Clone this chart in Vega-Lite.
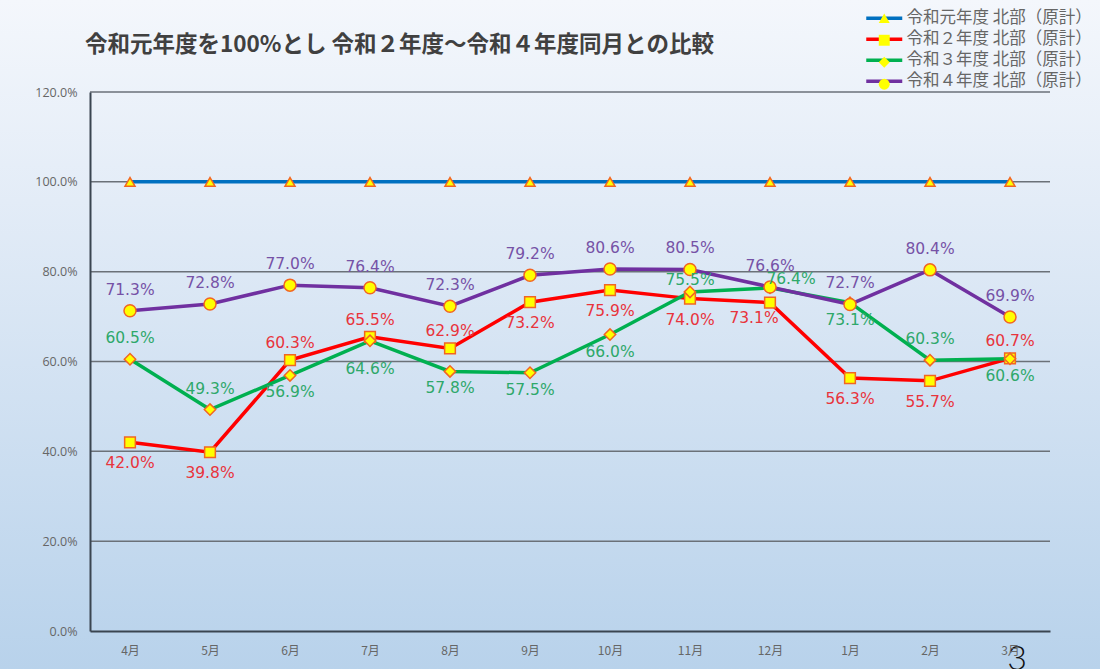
{
  "$schema": "https://vega.github.io/schema/vega-lite/v6.json",
  "width": 960,
  "height": 539,
  "autosize": {"type": "none"},
  "padding": {"left": 90, "top": 92, "right": 50, "bottom": 38},
  "background": "#dce8f4",
  "title": {
    "text": "令和元年度を100%とし 令和２年度～令和４年度同月との比較",
    "anchor": "start",
    "frame": "group",
    "fontSize": 22.5,
    "fontWeight": "bold",
    "color": "#404040",
    "font": "Noto Sans CJK JP",
    "offset": -57,
    "dx": -5
  },
  "config": {
    "font": "Noto Sans CJK JP",
    "view": {"stroke": null},
    "axis": {"zindex": 1}
  },
  "datasets": {
    "d": [
      {"fm": 1, "month": "4月", "series": "令和元年度 北部（原計）", "v": 100},
      {"fm": 2, "month": "5月", "series": "令和元年度 北部（原計）", "v": 100},
      {"fm": 3, "month": "6月", "series": "令和元年度 北部（原計）", "v": 100},
      {"fm": 4, "month": "7月", "series": "令和元年度 北部（原計）", "v": 100},
      {"fm": 5, "month": "8月", "series": "令和元年度 北部（原計）", "v": 100},
      {"fm": 6, "month": "9月", "series": "令和元年度 北部（原計）", "v": 100},
      {"fm": 7, "month": "10月", "series": "令和元年度 北部（原計）", "v": 100},
      {"fm": 8, "month": "11月", "series": "令和元年度 北部（原計）", "v": 100},
      {"fm": 9, "month": "12月", "series": "令和元年度 北部（原計）", "v": 100},
      {"fm": 10, "month": "1月", "series": "令和元年度 北部（原計）", "v": 100},
      {"fm": 11, "month": "2月", "series": "令和元年度 北部（原計）", "v": 100},
      {"fm": 12, "month": "3月", "series": "令和元年度 北部（原計）", "v": 100},
      {"fm": 1, "month": "4月", "series": "令和２年度 北部（原計）", "v": 42.0},
      {"fm": 2, "month": "5月", "series": "令和２年度 北部（原計）", "v": 39.8},
      {"fm": 3, "month": "6月", "series": "令和２年度 北部（原計）", "v": 60.3},
      {"fm": 4, "month": "7月", "series": "令和２年度 北部（原計）", "v": 65.5},
      {"fm": 5, "month": "8月", "series": "令和２年度 北部（原計）", "v": 62.9},
      {"fm": 6, "month": "9月", "series": "令和２年度 北部（原計）", "v": 73.2},
      {"fm": 7, "month": "10月", "series": "令和２年度 北部（原計）", "v": 75.9},
      {"fm": 8, "month": "11月", "series": "令和２年度 北部（原計）", "v": 74.0},
      {"fm": 9, "month": "12月", "series": "令和２年度 北部（原計）", "v": 73.1},
      {"fm": 10, "month": "1月", "series": "令和２年度 北部（原計）", "v": 56.3},
      {"fm": 11, "month": "2月", "series": "令和２年度 北部（原計）", "v": 55.7},
      {"fm": 12, "month": "3月", "series": "令和２年度 北部（原計）", "v": 60.7},
      {"fm": 1, "month": "4月", "series": "令和３年度 北部（原計）", "v": 60.5},
      {"fm": 2, "month": "5月", "series": "令和３年度 北部（原計）", "v": 49.3},
      {"fm": 3, "month": "6月", "series": "令和３年度 北部（原計）", "v": 56.9},
      {"fm": 4, "month": "7月", "series": "令和３年度 北部（原計）", "v": 64.6},
      {"fm": 5, "month": "8月", "series": "令和３年度 北部（原計）", "v": 57.8},
      {"fm": 6, "month": "9月", "series": "令和３年度 北部（原計）", "v": 57.5},
      {"fm": 7, "month": "10月", "series": "令和３年度 北部（原計）", "v": 66.0},
      {"fm": 8, "month": "11月", "series": "令和３年度 北部（原計）", "v": 75.5},
      {"fm": 9, "month": "12月", "series": "令和３年度 北部（原計）", "v": 76.4},
      {"fm": 10, "month": "1月", "series": "令和３年度 北部（原計）", "v": 73.1},
      {"fm": 11, "month": "2月", "series": "令和３年度 北部（原計）", "v": 60.3},
      {"fm": 12, "month": "3月", "series": "令和３年度 北部（原計）", "v": 60.6},
      {"fm": 1, "month": "4月", "series": "令和４年度 北部（原計）", "v": 71.3},
      {"fm": 2, "month": "5月", "series": "令和４年度 北部（原計）", "v": 72.8},
      {"fm": 3, "month": "6月", "series": "令和４年度 北部（原計）", "v": 77.0},
      {"fm": 4, "month": "7月", "series": "令和４年度 北部（原計）", "v": 76.4},
      {"fm": 5, "month": "8月", "series": "令和４年度 北部（原計）", "v": 72.3},
      {"fm": 6, "month": "9月", "series": "令和４年度 北部（原計）", "v": 79.2},
      {"fm": 7, "month": "10月", "series": "令和４年度 北部（原計）", "v": 80.6},
      {"fm": 8, "month": "11月", "series": "令和４年度 北部（原計）", "v": 80.5},
      {"fm": 9, "month": "12月", "series": "令和４年度 北部（原計）", "v": 76.6},
      {"fm": 10, "month": "1月", "series": "令和４年度 北部（原計）", "v": 72.7},
      {"fm": 11, "month": "2月", "series": "令和４年度 北部（原計）", "v": 80.4},
      {"fm": 12, "month": "3月", "series": "令和４年度 北部（原計）", "v": 69.9}
    ],
    "grid": [{"g": 20}, {"g": 40}, {"g": 60}, {"g": 80}, {"g": 100}, {"g": 120}],
    "page": [{"p": "3"}]
  },
  "data": {"name": "d"},
  "layer": [
    {
      "data": {"name": "page"},
      "mark": {
        "type": "rect",
        "fill": {
          "gradient": "linear",
          "x1": 0, "y1": 0, "x2": 0, "y2": 1,
          "stops": [
            {"offset": 0, "color": "#f4f7fc"},
            {"offset": 0.3, "color": "#e3ecf7"},
            {"offset": 1, "color": "#b8d2eb"}
          ]
        }
      },
      "encoding": {
        "x": {"datum": -0.625, "type": "quantitative", "scale": {"domain": [0.5, 12.5], "nice": false, "zero": false}},
        "x2": {"datum": 13.125},
        "y": {"datum": -8.47, "type": "quantitative", "scale": {"domain": [0, 120], "nice": false, "zero": false}},
        "y2": {"datum": 140.5}
      }
    },
    {
      "data": {"name": "grid"},
      "mark": {"type": "rule", "color": "#6b7178", "strokeWidth": 1.5},
      "encoding": {
        "x": {"datum": 0.5, "type": "quantitative"},
        "x2": {"datum": 12.5},
        "y": {"field": "g", "type": "quantitative"}
      }
    },
    {
      "mark": {"type": "line", "strokeWidth": 3.5},
      "encoding": {
        "x": {
          "field": "fm",
          "type": "quantitative",
          "scale": {"domain": [0.5, 12.5], "nice": false, "zero": false},
          "axis": {
            "title": null,
            "zindex": 2,
            "values": [1, 2, 3, 4, 5, 6, 7, 8, 9, 10, 11, 12],
            "labelExpr": "['4月','5月','6月','7月','8月','9月','10月','11月','12月','1月','2月','3月'][datum.value - 1]",
            "grid": false,
            "ticks": false,
            "domain": true,
            "domainColor": "#3a4550",
            "domainWidth": 2,
            "labelFont": "Noto Sans CJK JP",
            "labelFontSize": 12,
            "labelColor": "#666666",
            "labelPadding": 14
          }
        },
        "y": {
          "field": "v",
          "type": "quantitative",
          "scale": {"domain": [0, 120], "nice": false, "zero": false},
          "axis": {
            "title": null,
            "zindex": 2,
            "values": [0, 20, 40, 60, 80, 100, 120],
            "labelExpr": "format(datum.value, '.1f') + '%'",
            "grid": false,
            "ticks": false,
            "domain": true,
            "domainColor": "#3a4550",
            "domainWidth": 2,
            "labelFont": "Open Sans",
            "labelFontSize": 12.5,
            "labelColor": "#666666",
            "labelPadding": 13
          }
        },
        "color": {
          "field": "series",
          "type": "nominal",
          "scale": {
            "domain": ["令和元年度 北部（原計）", "令和２年度 北部（原計）", "令和３年度 北部（原計）", "令和４年度 北部（原計）"],
            "range": ["#0070c0", "#ff0000", "#00b050", "#7030a0"]
          },
          "legend": {
            "title": null,
            "orient": "none",
            "legendX": 786,
            "legendY": -82,
            "padding": 0,
            "symbolType": "M-4,0H4",
            "symbolSize": 81,
            "symbolStrokeWidth": 3.5,
            "symbolOffset": 0,
            "labelOffset": 14,
            "labelFont": "Noto Sans CJK JP",
            "labelFontSize": 16.5,
            "labelColor": "#666666",
            "labelLimit": 400,
            "rowPadding": 4
          }
        }
      }
    },
    {
      "transform": [{"calculate": "datum.series", "as": "marker"}],
      "mark": {"type": "point", "filled": true, "fill": "#ffff00", "stroke": "#f26522", "strokeWidth": 1.5, "opacity": 1},
      "encoding": {
        "x": {"field": "fm", "type": "quantitative"},
        "y": {"field": "v", "type": "quantitative"},
        "shape": {
          "field": "marker",
          "type": "nominal",
          "sort": null,
          "scale": {"range": ["triangle-up", "square", "diamond", "circle"]},
          "legend": {
            "title": null,
            "orient": "none",
            "legendX": 786,
            "legendY": -82,
            "padding": 0,
            "symbolSize": 120,
            "symbolStrokeWidth": 1.5,
            "symbolFillColor": "#ffff00",
            "symbolStrokeColor": "#f26522",
            "symbolOffset": 0,
            "labelOffset": 4,
            "labelExpr": "''",
            "labelFont": "Noto Sans CJK JP",
            "labelFontSize": 16.5,
            "rowPadding": 4
          }
        },
        "size": {
          "field": "series",
          "type": "nominal",
          "sort": null,
          "scale": {"range": [100, 144, 90, 81]},
          "legend": null
        }
      }
    },
    {
      "transform": [
        {"filter": "datum.series === '令和４年度 北部（原計）'"},
        {"calculate": "format(datum.v, '.1f') + '%'", "as": "lbl"}
      ],
      "mark": {"type": "text", "dy": -21, "fill": "#7652a6", "font": "DejaVu Sans", "fontSize": 15.5, "baseline": "middle"},
      "encoding": {
        "x": {"field": "fm", "type": "quantitative"},
        "y": {"field": "v", "type": "quantitative"},
        "text": {"field": "lbl"}
      }
    },
    {
      "transform": [
        {"filter": "datum.series === '令和２年度 北部（原計）' && indexof([3, 4, 5, 12], datum.fm) >= 0"},
        {"calculate": "format(datum.v, '.1f') + '%'", "as": "lbl"}
      ],
      "mark": {"type": "text", "dy": -17, "fill": "#e8343c", "font": "DejaVu Sans", "fontSize": 15.5, "baseline": "middle"},
      "encoding": {
        "x": {"field": "fm", "type": "quantitative"},
        "y": {"field": "v", "type": "quantitative"},
        "text": {"field": "lbl"}
      }
    },
    {
      "transform": [
        {"filter": "datum.series === '令和２年度 北部（原計）' && indexof([1, 2, 6, 7, 8, 10, 11], datum.fm) >= 0"},
        {"calculate": "format(datum.v, '.1f') + '%'", "as": "lbl"}
      ],
      "mark": {"type": "text", "dy": 21, "fill": "#e8343c", "font": "DejaVu Sans", "fontSize": 15.5, "baseline": "middle"},
      "encoding": {
        "x": {"field": "fm", "type": "quantitative"},
        "y": {"field": "v", "type": "quantitative"},
        "text": {"field": "lbl"}
      }
    },
    {
      "transform": [
        {"filter": "datum.series === '令和２年度 北部（原計）' && datum.fm === 9"},
        {"calculate": "format(datum.v, '.1f') + '%'", "as": "lbl"}
      ],
      "mark": {"type": "text", "dx": -16, "dy": 15, "fill": "#e8343c", "font": "DejaVu Sans", "fontSize": 15.5, "baseline": "middle"},
      "encoding": {
        "x": {"field": "fm", "type": "quantitative"},
        "y": {"field": "v", "type": "quantitative"},
        "text": {"field": "lbl"}
      }
    },
    {
      "transform": [
        {"filter": "datum.series === '令和３年度 北部（原計）' && indexof([1, 2, 11], datum.fm) >= 0"},
        {"calculate": "format(datum.v, '.1f') + '%'", "as": "lbl"}
      ],
      "mark": {"type": "text", "dy": -21, "fill": "#2ea86a", "font": "DejaVu Sans", "fontSize": 15.5, "baseline": "middle"},
      "encoding": {
        "x": {"field": "fm", "type": "quantitative"},
        "y": {"field": "v", "type": "quantitative"},
        "text": {"field": "lbl"}
      }
    },
    {
      "transform": [
        {"filter": "datum.series === '令和３年度 北部（原計）' && indexof([3, 5, 6, 7, 10, 12], datum.fm) >= 0"},
        {"calculate": "format(datum.v, '.1f') + '%'", "as": "lbl"}
      ],
      "mark": {"type": "text", "dy": 17, "fill": "#2ea86a", "font": "DejaVu Sans", "fontSize": 15.5, "baseline": "middle"},
      "encoding": {
        "x": {"field": "fm", "type": "quantitative"},
        "y": {"field": "v", "type": "quantitative"},
        "text": {"field": "lbl"}
      }
    },
    {
      "transform": [
        {"filter": "datum.series === '令和３年度 北部（原計）' && datum.fm === 4"},
        {"calculate": "format(datum.v, '.1f') + '%'", "as": "lbl"}
      ],
      "mark": {"type": "text", "dy": 28, "fill": "#2ea86a", "font": "DejaVu Sans", "fontSize": 15.5, "baseline": "middle"},
      "encoding": {
        "x": {"field": "fm", "type": "quantitative"},
        "y": {"field": "v", "type": "quantitative"},
        "text": {"field": "lbl"}
      }
    },
    {
      "transform": [
        {"filter": "datum.series === '令和３年度 北部（原計）' && datum.fm === 8"},
        {"calculate": "format(datum.v, '.1f') + '%'", "as": "lbl"}
      ],
      "mark": {"type": "text", "dy": -12, "fill": "#2ea86a", "font": "DejaVu Sans", "fontSize": 15.5, "baseline": "middle"},
      "encoding": {
        "x": {"field": "fm", "type": "quantitative"},
        "y": {"field": "v", "type": "quantitative"},
        "text": {"field": "lbl"}
      }
    },
    {
      "transform": [
        {"filter": "datum.series === '令和３年度 北部（原計）' && datum.fm === 9"},
        {"calculate": "format(datum.v, '.1f') + '%'", "as": "lbl"}
      ],
      "mark": {"type": "text", "dx": 21, "dy": -9, "fill": "#2ea86a", "font": "DejaVu Sans", "fontSize": 15.5, "baseline": "middle"},
      "encoding": {
        "x": {"field": "fm", "type": "quantitative"},
        "y": {"field": "v", "type": "quantitative"},
        "text": {"field": "lbl"}
      }
    },
    {
      "data": {"name": "page"},
      "mark": {"type": "text", "font": "Lato", "fontWeight": 300, "fontSize": 34, "fill": "#111111", "baseline": "alphabetic", "align": "center"},
      "encoding": {
        "x": {"datum": 12.09, "type": "quantitative"},
        "y": {"datum": -8.68, "type": "quantitative"},
        "text": {"field": "p"}
      }
    }
  ]
}
